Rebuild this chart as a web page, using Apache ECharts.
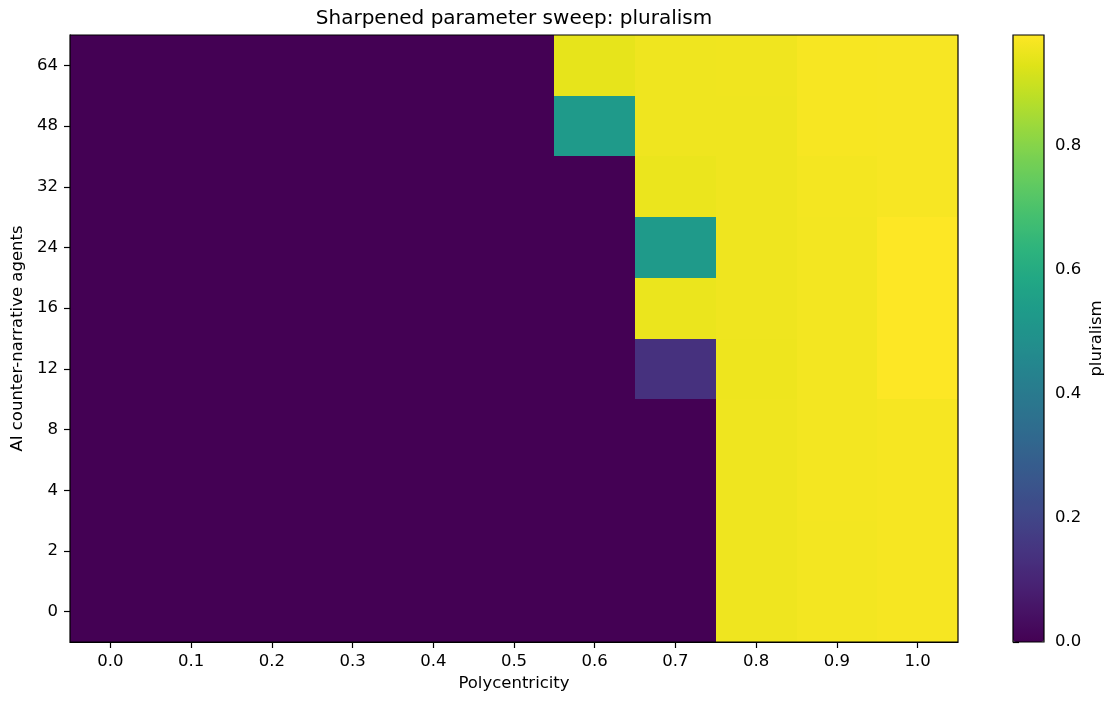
<!DOCTYPE html>
<html>
<head>
<meta charset="utf-8">
<script src="https://cdn.jsdelivr.net/npm/echarts@6/dist/echarts.min.js"></script>
<style>
html,body{margin:0;padding:0;background:#fff;}
#chart{width:1112px;height:709px;}
</style>
</head>
<body>
<div id="chart"></div>
<script>
// ---- data ----
const xLabels = ['0.0','0.1','0.2','0.3','0.4','0.5','0.6','0.7','0.8','0.9','1.0'];
const yLabels = ['0','2','4','8','12','16','24','32','48','64'];
// pluralism per AI-agent count (row), one value per polycentricity (column)
const row0  = [0,0,0,0,0,0,0,0,0.956,0.963,0.968];
const row2  = [0,0,0,0,0,0,0,0,0.956,0.963,0.968];
const row4  = [0,0,0,0,0,0,0,0,0.956,0.964,0.968];
const row8  = [0,0,0,0,0,0,0,0,0.956,0.963,0.968];
const row12 = [0,0,0,0,0,0,0,0.137,0.954,0.963,0.979];
const row16 = [0,0,0,0,0,0,0,0.950,0.956,0.963,0.979];
const row24 = [0,0,0,0,0,0,0,0.530,0.956,0.963,0.979];
const row32 = [0,0,0,0,0,0,0,0.950,0.956,0.964,0.970];
const row48 = [0,0,0,0,0,0,0.530,0.956,0.956,0.969,0.970];
const row64 = [0,0,0,0,0,0,0.943,0.956,0.958,0.969,0.970];
const rows = [row0,row2,row4,row8,row12,row16,row24,row32,row48,row64];
const cbTicks = [0,0.2,0.4,0.6,0.8];
const vMin = 0, vMax = 0.979;

// viridis sampled every 0.05
const viridis = ['#440154','#471365','#482475','#463480','#414487','#3b528b','#355f8d','#2f6c8e','#2a788e','#25848e','#21918c',
                 '#1e9c89','#22a884','#2fb47c','#44bf70','#5ec962','#7ad151','#9bd93c','#bddf26','#dfe318','#fde725'];

const heat = [];
rows.forEach((r, yi) => r.forEach((v, xi) => heat.push([xi, yi, v])));

// ---- layout ----
const FONT = 'DejaVu Sans';
const FS = 16.5;
const G = {left:70, top:35, width:888, height:607};
const CB = {left:1013, top:35, width:31, height:607};
const INK = '#000';

const chart = echarts.init(document.getElementById('chart'), null, {renderer:'canvas'});
chart.setOption({
  animation:false,
  backgroundColor:'#fff',
  textStyle:{fontFamily:FONT},
  title:{
    text:'Sharpened parameter sweep: pluralism',
    left:G.left + G.width/2, top:9, textAlign:'center', padding:0,
    textStyle:{fontFamily:FONT, fontSize:20, fontWeight:'normal', color:INK}
  },
  grid:[
    {left:G.left, top:G.top, width:G.width, height:G.height, containLabel:false},
    {left:CB.left, top:CB.top, width:CB.width, height:CB.height, containLabel:false}
  ],
  xAxis:[
    {type:'category', gridIndex:0, data:xLabels,
     name:'Polycentricity', nameLocation:'middle', nameGap:33,
     nameTextStyle:{fontFamily:FONT, fontSize:FS, color:INK},
     axisLine:{show:true, lineStyle:{color:INK, width:1}},
     axisTick:{show:true, alignWithLabel:true, length:6, lineStyle:{color:INK, width:1.2}},
     axisLabel:{fontFamily:FONT, fontSize:FS, color:INK, margin:11},
     splitLine:{show:false}, splitArea:{show:false}},
    {type:'value', gridIndex:1, show:false, min:0, max:1}
  ],
  yAxis:[
    {type:'category', gridIndex:0, data:yLabels,
     name:'AI counter-narrative agents', nameLocation:'middle', nameGap:38, nameRotate:90,
     nameTextStyle:{fontFamily:FONT, fontSize:FS, color:INK},
     axisLine:{show:true, lineStyle:{color:INK, width:1}},
     axisTick:{show:true, alignWithLabel:true, length:6, lineStyle:{color:INK, width:1.2}},
     axisLabel:{fontFamily:FONT, fontSize:FS, color:INK, margin:12},
     splitLine:{show:false}, splitArea:{show:false}},
    {type:'value', gridIndex:1, position:'right', min:vMin, max:vMax,
     name:'pluralism', nameLocation:'middle', nameGap:44, nameRotate:90,
     nameTextStyle:{fontFamily:FONT, fontSize:FS, color:INK},
     axisLine:{show:false},
     axisTick:{show:true, length:6, customValues:cbTicks, lineStyle:{color:INK, width:1.2}},
     axisLabel:{fontFamily:FONT, fontSize:FS, color:INK, margin:11,
       customValues:cbTicks, formatter:(v)=>Number(v).toFixed(1)},
     splitLine:{show:false}}
  ],
  visualMap:{
    type:'continuous', seriesIndex:0, dimension:2, min:vMin, max:vMax,
    orient:'vertical', left:CB.left, top:CB.top, itemWidth:CB.width, itemHeight:CB.height,
    padding:0, calculable:false, hoverLink:false, text:null, showLabel:false,
    inRange:{color:viridis}
  },
  series:[{
    type:'custom', xAxisIndex:0, yAxisIndex:0, data:heat,
    encode:{x:0, y:1},
    renderItem:function(params, api){
      const c = api.coord([api.value(0), api.value(1)]);
      const s = api.size([1, 1]);
      const x0 = Math.round(c[0]-s[0]/2), x1 = Math.round(c[0]+s[0]/2);
      const y0 = Math.round(c[1]-s[1]/2), y1 = Math.round(c[1]+s[1]/2);
      return {
        type:'rect',
        shape:{x:x0, y:y0, width:x1-x0, height:y1-y0},
        style:{fill:api.visual('color')}
      };
    }
  }],
  graphic:[
    {type:'rect', z:100, silent:true,
     shape:{x:G.left, y:G.top, width:G.width, height:G.height},
     style:{fill:null, stroke:INK, lineWidth:1.2}},
    {type:'rect', z:100, silent:true,
     shape:{x:CB.left, y:CB.top, width:CB.width, height:CB.height},
     style:{fill:null, stroke:INK, lineWidth:1.2}}
  ]
});
</script>
</body>
</html>
